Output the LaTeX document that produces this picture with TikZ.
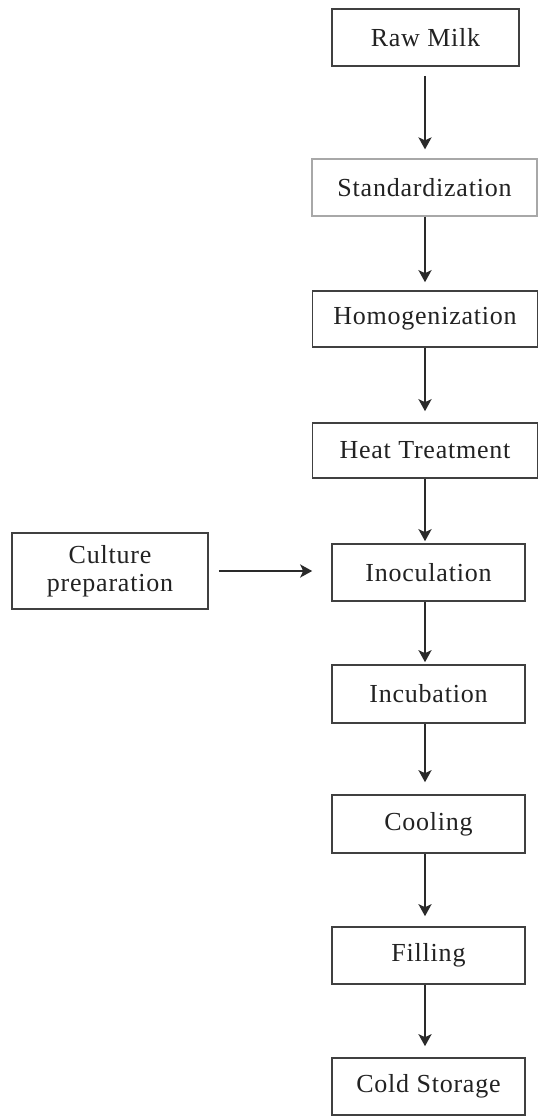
\documentclass[tikz,border=0pt]{standalone}
\usepackage{fontspec}
\setmainfont{Liberation Serif}[LetterSpace=3]
\usetikzlibrary{arrows.meta}
\definecolor{boxline}{HTML}{404040}
\definecolor{lightline}{HTML}{A8A8A8}
\definecolor{txt}{HTML}{222222}
\definecolor{arr}{HTML}{2A2A2A}
\tikzset{
  stage/.style={draw=boxline, line width=1.6pt, fill=white, text=txt,
    inner sep=0pt, font=\fontsize{26}{28}\selectfont, align=center},
  flow/.style={draw=arr, line width=2.6pt, -{Stealth[length=12pt,width=13pt,inset=3pt]}}
}
\begin{document}
\begin{tikzpicture}[x=1pt,y=-1pt]
\fill[white] (0,0) rectangle (538,1116);
\useasboundingbox (0,0) rectangle (538,1116);
\coordinate (xc) at (425,0);
\node[stage, minimum width=187pt, minimum height=57pt] (raw) at (425.5,37.5) {Raw Milk};
\node[stage, draw=lightline, line width=1.2pt, minimum width=225pt, minimum height=57pt] (std) at (424.5,187.5) {Standardization};
\node[stage, minimum width=225pt, minimum height=56pt] (hom) at (425,319) {Homogenization};
\node[stage, minimum width=225pt, minimum height=55pt] (heat) at (425,450.5) {Heat Treatment};
\node[stage, minimum width=193pt, minimum height=57pt] (ino) at (428.5,572.5) {Inoculation};
\node[stage, minimum width=196pt, minimum height=76pt] (cult) at (110,571) {\raisebox{-1.5pt}{\parbox{190pt}{\centering Culture\\preparation}}};
\node[stage, minimum width=193pt, minimum height=58pt] (inc) at (428.5,694) {Incubation};
\node[stage, minimum width=193pt, minimum height=58pt] (cool) at (428.5,824) {Cooling};
\node[stage, minimum width=193pt, minimum height=57pt] (fill) at (428.5,955.5) {Filling};
\node[stage, minimum width=193pt, minimum height=57pt] (cold) at (428.5,1086.5) {Cold Storage};
\draw[flow, shorten <=9pt, shorten >=9pt] (raw.south -| xc) -- (std.north -| xc);
\draw[flow, shorten >=8pt] (std.south -| xc) -- (hom.north -| xc);
\draw[flow, shorten >=11pt] (hom.south -| xc) -- (heat.north -| xc);
\draw[flow, shorten >=2pt] (heat.south -| xc) -- (ino.north -| xc);
\draw[flow, shorten >=2pt] (ino.south -| xc) -- (inc.north -| xc);
\draw[flow, shorten >=12pt] (inc.south -| xc) -- (cool.north -| xc);
\draw[flow, shorten >=10pt] (cool.south -| xc) -- (fill.north -| xc);
\draw[flow, shorten >=11pt] (fill.south -| xc) -- (cold.north -| xc);
\draw[flow, shorten <=10pt, shorten >=19pt] (cult.east) -- (cult.east -| ino.west);
\end{tikzpicture}
\end{document}
